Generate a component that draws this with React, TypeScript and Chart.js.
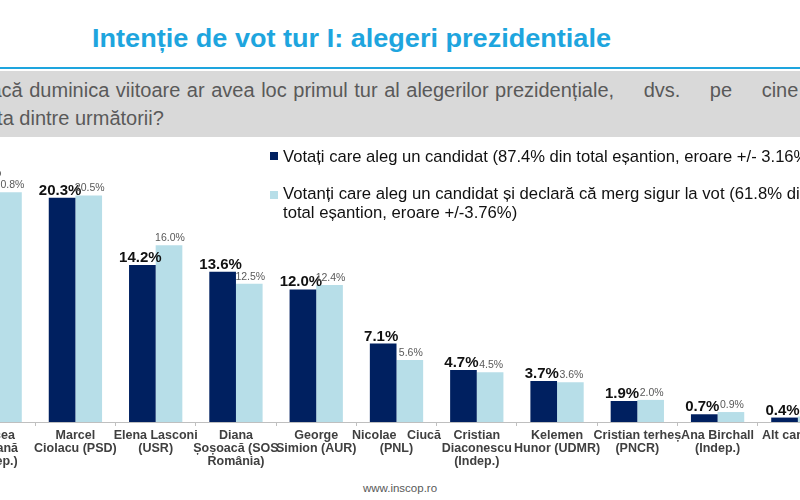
import React, { useEffect, useLayoutEffect, useRef } from "react";
import { Chart, registerables } from "chart.js";

Chart.register(...registerables);

const candidateLabels: string[][] = [
  ["Mircea", "Geoană", "(Indep.)"],
  ["Marcel", "Ciolacu (PSD)"],
  ["Elena Lasconi", "(USR)"],
  ["Diana", "Șoșoacă (SOS", "România)"],
  ["George", "Simion (AUR)"],
  ["Nicolae   Ciucă", "(PNL)"],
  ["Cristian", "Diaconescu", "(Indep.)"],
  ["Kelemen", "Hunor (UDMR)"],
  ["Cristian terheș", "(PNCR)"],
  ["Ana Birchall", "(Indep.)"],
  ["Alt candidat"],
];

const allVoters: number[] = [21.9, 20.3, 14.2, 13.6, 12.0, 7.1, 4.7, 3.7, 1.9, 0.7, 0.4];
const sureVoters: number[] = [20.8, 20.5, 16.0, 12.5, 12.4, 5.6, 4.5, 3.6, 2.0, 0.9, 0.5];

const seriesNames: string[] = [
  "Votați care aleg un candidat (87.4% din total eșantion, eroare +/- 3.16%)",
  "Votanți care aleg un candidat și declară că merg sigur la vot (61.8% din total eșantion, eroare +/-3.76%)",
];

const TITLE = "Intenție de vot tur I: alegeri prezidentiale";
const DARK = "#002060";
const LIGHT = "#B7DEE8";
const CYAN = "#1EA5DE";
const FONT = "'Liberation Sans', Arial, sans-serif";

function Fit({ text, width, style }: { text: string; width: number; style: React.CSSProperties }) {
  const ref = useRef<HTMLSpanElement>(null);
  useLayoutEffect(() => {
    const el = ref.current;
    if (!el) return;
    el.style.transform = "";
    const w = el.getBoundingClientRect().width;
    if (w > 0) el.style.transform = `scaleX(${width / w})`;
  }, [text, width]);
  return (
    <span
      ref={ref}
      style={{ ...style, display: "inline-block", whiteSpace: "nowrap", transformOrigin: "left center" }}
    >
      {text}
    </span>
  );
}

const labelPlugin = {
  id: "barLabels",
  afterDatasetsDraw(chart: any) {
    const ctx = chart.ctx;
    chart.data.datasets.forEach((ds: any, di: number) => {
      const meta = chart.getDatasetMeta(di);
      meta.data.forEach((bar: any, i: number) => {
        const v = ds.data[i] as number;
        ctx.save();
        ctx.font = di === 0 ? `bold 15px ${FONT}` : `10.5px ${FONT}`;
        ctx.fillStyle = di === 0 ? "#111111" : "#595959";
        ctx.textAlign = "center";
        ctx.textBaseline = "alphabetic";
        ctx.fillText(v.toFixed(1) + "%", bar.x - (di === 0 ? 2 : -1), bar.y - (di === 0 ? 3 : 4));
        ctx.restore();
      });
    });
  },
};

export default function App() {
  const canvasRef = useRef<HTMLCanvasElement>(null);

  useEffect(() => {
    if (!canvasRef.current) return;
    const chart = new Chart(canvasRef.current, {
      type: "bar",
      data: {
        labels: candidateLabels,
        datasets: [
          { label: seriesNames[0], data: allVoters, backgroundColor: DARK, categoryPercentage: 0.664, barPercentage: 1.0 },
          { label: seriesNames[1], data: sureVoters, backgroundColor: LIGHT, categoryPercentage: 0.664, barPercentage: 1.0 },
        ],
      },
      options: {
        responsive: false,
        maintainAspectRatio: false,
        animation: false,
        devicePixelRatio: 1,
        layout: { padding: 0 },
        plugins: { legend: { display: false }, tooltip: { enabled: false }, title: { display: false } },
        scales: {
          y: { display: false, min: 0, max: 25.52 },
          x: {
            afterFit: (scale: any) => {
              scale.height = 58;
            },
            border: { display: true, color: "#BFBFBF", width: 1 },
            grid: {
              display: true,
              drawOnChartArea: false,
              drawTicks: true,
              tickLength: 4,
              color: "#BFBFBF",
              offset: true,
            },
            ticks: {
              autoSkip: false,
              maxRotation: 0,
              minRotation: 0,
              padding: 3,
              color: "#404040",
              font: { family: FONT, size: 12.5, weight: "bold", lineHeight: 1.04 },
            },
          },
        },
      },
      plugins: [labelPlugin],
    } as any);
    return () => chart.destroy();
  }, []);

  const bandText: React.CSSProperties = {
    position: "absolute",
    left: -24,
    fontSize: 20,
    lineHeight: "20px",
    color: "#595959",
    whiteSpace: "nowrap",
  };

  return (
    <div
      style={{
        position: "absolute",
        left: 0,
        top: 0,
        width: 800,
        height: 500,
        overflow: "hidden",
        background: "#ffffff",
        fontFamily: FONT,
      }}
    >
      {/* Title */}
      <div style={{ position: "absolute", left: 92, top: 25, lineHeight: "26px" }}>
        <Fit text={TITLE} width={519} style={{ fontSize: 26, fontWeight: "bold", color: CYAN, lineHeight: "26px" }} />
      </div>
      {/* cyan rule */}
      <div style={{ position: "absolute", left: 0, top: 67, width: 800, height: 2, background: CYAN }} />
      {/* gray question band */}
      <div style={{ position: "absolute", left: 0, top: 71, width: 800, height: 66, background: "#D9D9D9" }} />
      <div style={{ ...bandText, top: 80, wordSpacing: 1 }}>
        Dacă duminica viitoare ar avea loc primul tur al alegerilor prezidențiale,
        <span style={{ wordSpacing: 24 }}> dvs. pe cine ați</span>
      </div>
      <div style={{ ...bandText, top: 108 }}>vota dintre următorii?</div>

      {/* chart */}
      <canvas
        ref={canvasRef}
        width={883}
        height={340}
        style={{ position: "absolute", left: -45, top: 140, width: 883, height: 340 }}
      />

      {/* legend */}
      <div style={{ position: "absolute", left: 270, top: 152, width: 8, height: 8, background: DARK }} />
      <div
        style={{
          position: "absolute",
          left: 283,
          top: 147,
          fontSize: 16.6,
          lineHeight: "19px",
          color: "#111111",
          whiteSpace: "nowrap",
        }}
      >
        {seriesNames[0]}
      </div>
      <div style={{ position: "absolute", left: 270, top: 191, width: 8, height: 8, background: LIGHT }} />
      <div
        style={{
          position: "absolute",
          left: 283,
          top: 185,
          fontSize: 16.7,
          lineHeight: "18.5px",
          color: "#111111",
          whiteSpace: "nowrap",
        }}
      >
        Votanți care aleg un candidat și declară că merg sigur la vot (61.8% din
        <br />
        total eșantion, eroare +/-3.76%)
      </div>

      {/* footer */}
      <div
        style={{
          position: "absolute",
          left: 0,
          top: 481,
          width: 800,
          textAlign: "center",
          fontSize: 11.5,
          lineHeight: "14px",
          color: "#595959",
        }}
      >
        www.inscop.ro
      </div>
    </div>
  );
}
